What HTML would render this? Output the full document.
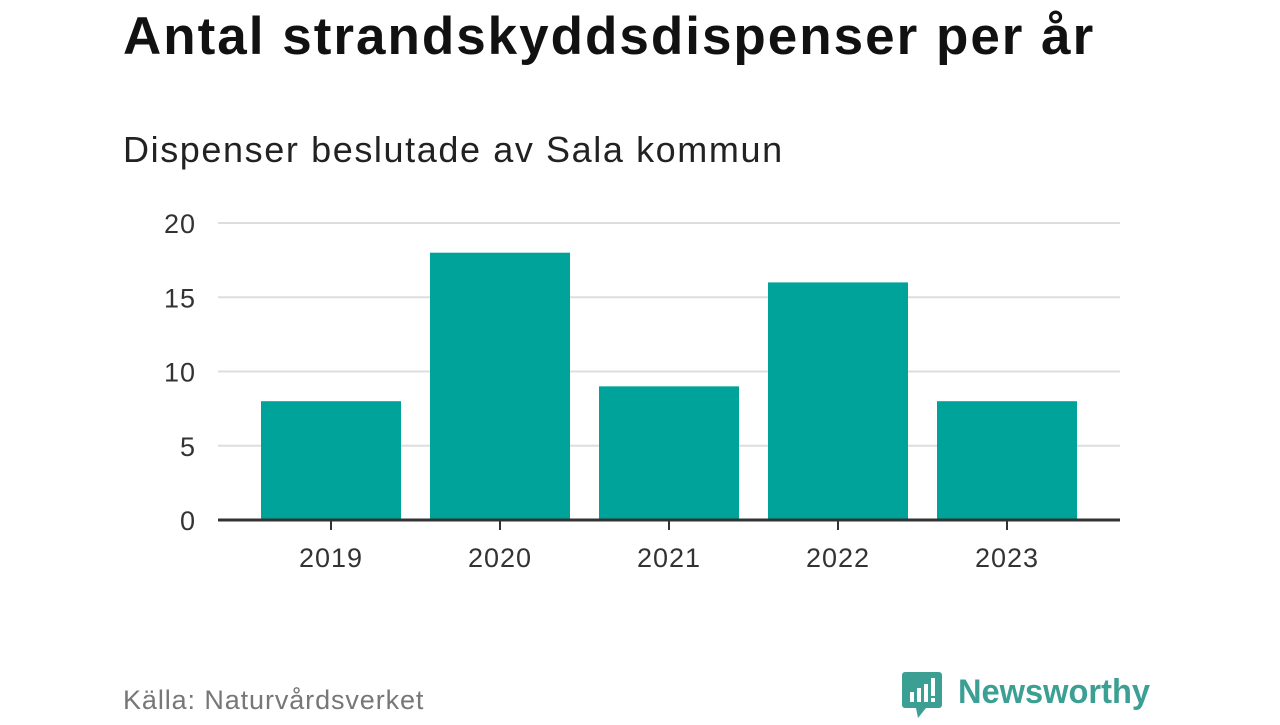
<!DOCTYPE html>
<html><head><meta charset="utf-8"><style>
body{margin:0;width:1280px;height:720px;background:#fff;font-family:"Liberation Sans",sans-serif;overflow:hidden;position:relative}
.t{position:absolute;left:123px;top:6px;font-size:53px;font-weight:bold;color:#111;letter-spacing:2px;white-space:nowrap}
.s{position:absolute;left:123px;top:129px;font-size:36px;color:#222;letter-spacing:1.6px;white-space:nowrap}
.src{position:absolute;left:123px;top:685px;font-size:27px;color:#777;letter-spacing:0.9px;white-space:nowrap}
</style></head><body>
<div class="t">Antal strandskyddsdispenser per år</div>
<div class="s">Dispenser beslutade av Sala kommun</div>
<svg id="c" width="1280" height="720" style="position:absolute;left:0;top:0"></svg>
<div class="src">Källa: Naturvårdsverket</div>
<div style="position:absolute;left:902px;top:670px">
<svg width="300" height="50"><rect x="0" y="2" width="40" height="36" rx="3" fill="#3c9f94"/><polygon points="14,38 24,38 16,48" fill="#3c9f94"/>
<rect x="8" y="22" width="4" height="10" fill="#fff"/><rect x="15" y="18" width="4" height="14" fill="#fff"/><rect x="22" y="14" width="4" height="18" fill="#fff"/><rect x="29" y="8" width="4" height="18" fill="#fff"/><rect x="29" y="28" width="4" height="4" fill="#fff"/>
<text x="56" y="33" font-size="34" font-weight="bold" fill="#3c9f94" font-family="Liberation Sans,sans-serif" textLength="192" lengthAdjust="spacingAndGlyphs">Newsworthy</text></svg></div>
<script>
const categories=["2019","2020","2021","2022","2023"];
const values=[8,18,9,16,8];
const ticks=[0,5,10,15,20];
const svg=document.getElementById('c');const NS='http://www.w3.org/2000/svg';
const y=v=>520-v*14.85;const x=i=>331+i*169;
function mk(t,a){const e=document.createElementNS(NS,t);for(const k in a)e.setAttribute(k,a[k]);svg.appendChild(e);return e;}
ticks.forEach(t=>{if(t>0){const l=mk('line',{x1:218,x2:1120,y1:y(t),y2:y(t),stroke:'#ddd','stroke-width':2});

}
const tx=mk('text',{x:196,y:y(t)+10,'text-anchor':'end','font-size':27,fill:'#333','font-family':'Liberation Sans,sans-serif','letter-spacing':1});tx.textContent=t;

});
values.forEach((v,i)=>{const r=mk('rect',{x:x(i)-70,y:y(v),width:140,height:y(0)-y(v),fill:'#00a39a'});


const tk=mk('line',{x1:x(i),x2:x(i),y1:520,y2:530,stroke:'#333','stroke-width':2});


const tx=mk('text',{x:x(i),y:567,'text-anchor':'middle','font-size':27,fill:'#333','font-family':'Liberation Sans,sans-serif','letter-spacing':1});tx.textContent=categories[i];

});
const ax=mk('line',{x1:218,x2:1120,y1:520,y2:520,stroke:'#333','stroke-width':3});


</script>
</body></html>
